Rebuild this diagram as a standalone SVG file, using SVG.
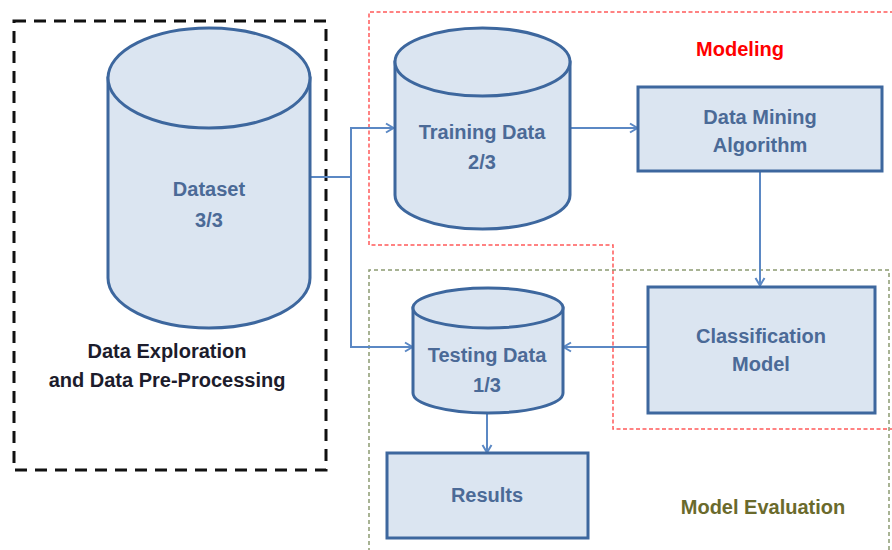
<svg xmlns="http://www.w3.org/2000/svg" width="892" height="550" viewBox="0 0 892 550">
  <defs>
    <style>
      .node { fill: #dbe5f1; stroke: #3d679e; stroke-width: 3; }
      .ntext { font-family: "Liberation Sans", Arial, sans-serif; font-weight: bold; font-size: 20px; fill: #4b6a97; text-anchor: middle; }
      .conn { fill: none; stroke: #5b88c4; stroke-width: 2; }
      .label { font-family: "Liberation Sans", Arial, sans-serif; font-weight: bold; font-size: 20px; text-anchor: middle; }
    </style>
    <marker id="arrow" markerUnits="userSpaceOnUse" markerWidth="12" markerHeight="12" refX="9" refY="6" orient="auto">
      <path d="M2,1.5 L9.5,6 L2,10.5" fill="none" stroke="#5b88c4" stroke-width="2"/>
    </marker>
  </defs>

  <rect width="892" height="550" fill="#ffffff"/>

  <!-- Phase frames -->
  <g id="frame-preprocessing">
    <rect x="14" y="21" width="312" height="449" fill="none" stroke="#111111" stroke-width="3" stroke-dasharray="12 8"/>
    <text class="label" x="167" y="358" fill="#1c1c2c">Data Exploration</text>
    <text class="label" x="167" y="387" fill="#1c1c2c">and Data Pre-Processing</text>
  </g>
  <g id="frame-modeling">
    <path d="M894,12 H369 V245 H613 V429 H894" fill="none" stroke="#ff5a5a" stroke-width="1.5" stroke-dasharray="4 2.5"/>
    <text class="label" x="740" y="56" font-size="21" fill="#ff0000">Modeling</text>
  </g>
  <g id="frame-evaluation">
    <path d="M369,552 V270 H889 V552" fill="none" stroke="#8c9a72" stroke-width="1.5" stroke-dasharray="4 3"/>
    <text class="label" x="763" y="514" fill="#6a6a2c">Model Evaluation</text>
  </g>

  <!-- Connectors -->
  <g id="connectors">
    <path class="conn" d="M310,177 H351 V128 H393" marker-end="url(#arrow)"/>
    <path class="conn" d="M351,177 V347 H412" marker-end="url(#arrow)"/>
    <path class="conn" d="M570,128 H637" marker-end="url(#arrow)"/>
    <path class="conn" d="M760,171 V285" marker-end="url(#arrow)"/>
    <path class="conn" d="M648,347 H564" marker-end="url(#arrow)"/>
    <path class="conn" d="M487,413 V452" marker-end="url(#arrow)"/>
  </g>

  <!-- Nodes -->
  <g id="dataset">
    <path class="node" d="M108,78 V278 A101,50 0 0 0 310,278 V78 Z"/>
    <ellipse class="node" cx="209" cy="78" rx="101" ry="50"/>
    <text class="ntext" x="209" y="196">Dataset</text>
    <text class="ntext" x="209" y="227">3/3</text>
  </g>
  <g id="training-data">
    <path class="node" d="M395,62 V195 A87.5,34 0 0 0 570,195 V62 Z"/>
    <ellipse class="node" cx="482.5" cy="62" rx="87.5" ry="34"/>
    <text class="ntext" x="482" y="139">Training Data</text>
    <text class="ntext" x="482" y="169">2/3</text>
  </g>
  <g id="data-mining-algorithm">
    <rect class="node" x="638" y="87" width="244" height="84"/>
    <text class="ntext" x="760" y="124">Data Mining</text>
    <text class="ntext" x="760" y="152">Algorithm</text>
  </g>
  <g id="classification-model">
    <rect class="node" x="648" y="287" width="227" height="126"/>
    <text class="ntext" x="761" y="343">Classification</text>
    <text class="ntext" x="761" y="371">Model</text>
  </g>
  <g id="testing-data">
    <path class="node" d="M413,308 V393 A75,20 0 0 0 563,393 V308 Z"/>
    <ellipse class="node" cx="488" cy="308" rx="75" ry="20"/>
    <text class="ntext" x="487" y="362">Testing Data</text>
    <text class="ntext" x="487" y="392">1/3</text>
  </g>
  <g id="results">
    <rect class="node" x="387" y="453" width="201" height="85"/>
    <text class="ntext" x="487" y="502">Results</text>
  </g>
</svg>
